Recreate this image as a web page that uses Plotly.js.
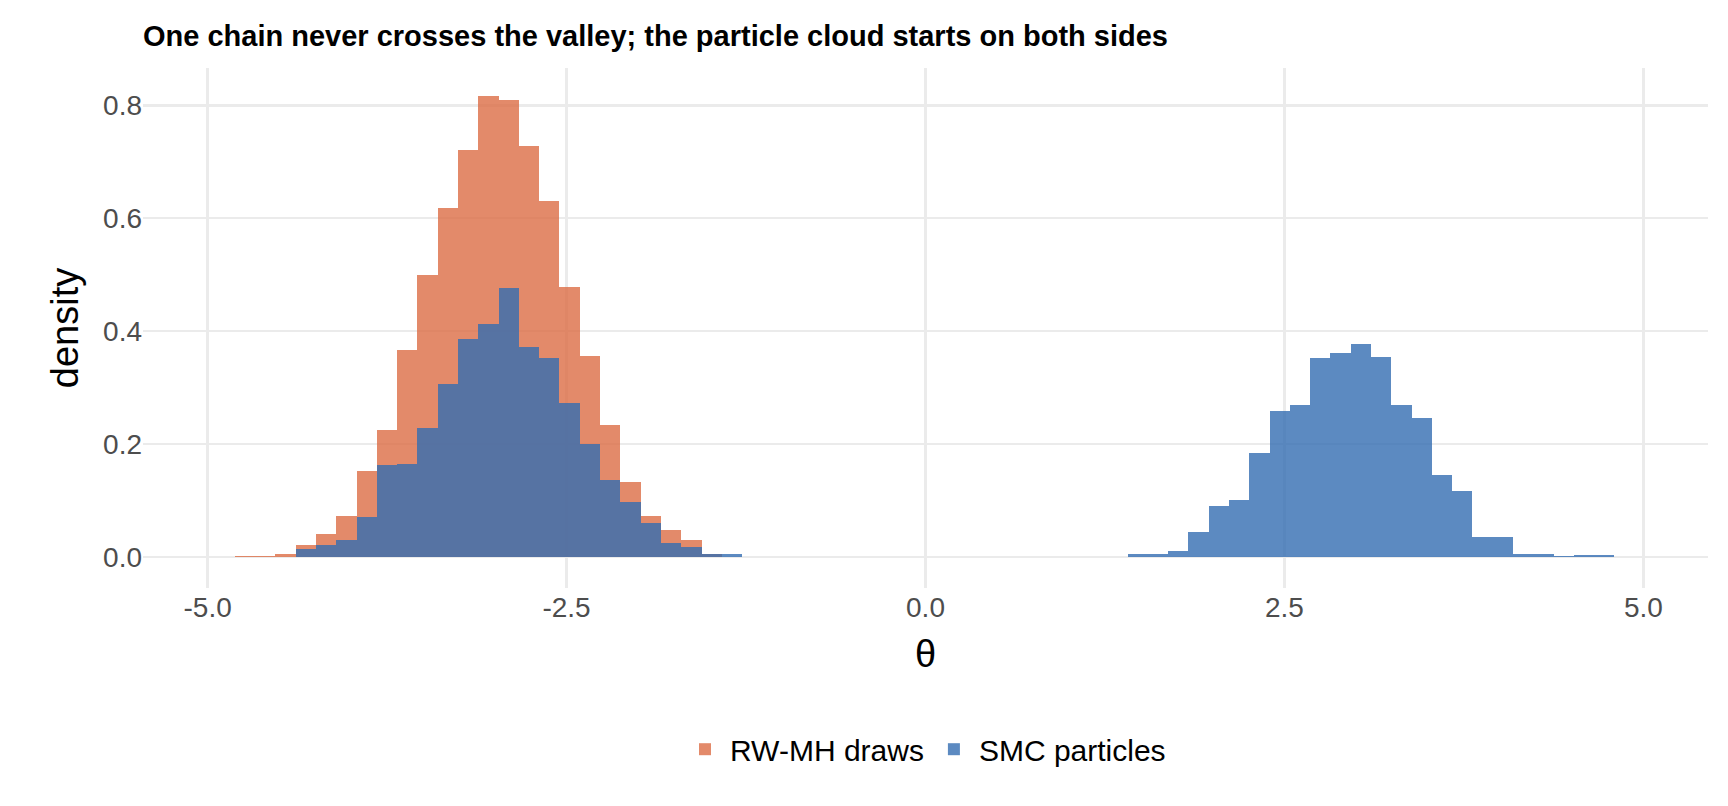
<!DOCTYPE html>
<html>
<head>
<script src="https://cdn.plot.ly/plotly-3.0.1.min.js"></script>
<style>body{margin:0;background:#fff}</style>
</head>
<body>
<div id="chart" style="width:1728px;height:806px"></div>
<script>
// histogram bins: left edge of first bin and bin width
const binStart = -4.81;
const binWidth = 0.1413;

// densities per bin index
const rwmhBins = [0,1,2,3,4,5,6,7,8,9,10,11,12,13,14,15,16,17,18,19,20,21,22,23];
const rwmhDensity = [0.002,0.002,0.006,0.022,0.04,0.073,0.153,0.225,0.366,0.5,0.618,0.72,0.816,0.81,0.728,0.63,0.479,0.356,0.233,0.133,0.073,0.047,0.03,0.005];

const smcBins = [3,4,5,6,7,8,9,10,11,12,13,14,15,16,17,18,19,20,21,22,23,24,
  44,45,46,47,48,49,50,51,52,53,54,55,56,57,58,59,60,61,62,63,64,65,66,67];
const smcDensity = [0.014,0.021,0.03,0.07,0.162,0.165,0.228,0.307,0.386,0.413,0.476,0.372,0.352,0.272,0.2,0.137,0.098,0.06,0.025,0.018,0.006,0.006,
  0.006,0.006,0.01,0.045,0.09,0.1,0.184,0.258,0.27,0.352,0.362,0.378,0.354,0.27,0.246,0.145,0.116,0.036,0.036,0.006,0.006,0.001,0.003,0.003];

const center = i => binStart + (i + 0.5) * binWidth;

const traces = [
  {type: "bar", name: "RW-MH draws", x: rwmhBins.map(center), y: rwmhDensity,
   width: binWidth, marker: {color: "rgb(221,110,70)", line: {width: 0}}, opacity: 0.8},
  {type: "bar", name: "SMC particles", x: smcBins.map(center), y: smcDensity,
   width: binWidth, marker: {color: "rgb(52,110,178)", line: {width: 0}}, opacity: 0.8}
];

const gray = "#4d4d4d";
const layout = {
  barmode: "overlay",
  bargap: 0,
  paper_bgcolor: "#fff",
  plot_bgcolor: "#fff",
  margin: {l: 143, r: 20, t: 68, b: 218},
  font: {family: "Liberation Sans, Arial, sans-serif", color: gray},
  title: {text: "<b>One chain never crosses the valley; the particle cloud starts on both sides</b>",
    x: 0, xref: "paper", xanchor: "left", y: 0.955, yanchor: "middle",
    font: {size: 29, color: "#000"}},
  xaxis: {range: [-5.45, 5.45], tickvals: [-5, -2.5, 0, 2.5, 5],
    ticktext: ["-5.0", "-2.5", "0.0", "2.5", "5.0"], tickfont: {size: 28, color: gray},
    showgrid: true, gridcolor: "#ebebeb", gridwidth: 2.5, zeroline: false, showline: false,
    ticks: "", ticklen: 8, tickcolor: "#fff",
    title: {text: "θ", font: {size: 38, color: "#000"}, standoff: 18}},
  yaxis: {range: [-0.055, 0.866], tickvals: [0, 0.2, 0.4, 0.6, 0.8],
    ticktext: ["0.0", "0.2", "0.4", "0.6", "0.8"], tickfont: {size: 28, color: gray},
    showgrid: true, gridcolor: "#ebebeb", gridwidth: 2.5, zeroline: false, showline: false,
    ticks: "", ticklen: 6, tickcolor: "#fff",
    title: {text: "density", font: {size: 38, color: "#000"}, standoff: 12}},
  showlegend: true,
  legend: {orientation: "h", x: 0.5, xanchor: "center", y: -0.31, yanchor: "middle",
    font: {size: 30, color: "#000"}, itemwidth: 40, traceorder: "normal"}
};

Plotly.newPlot("chart", traces, layout, {displayModeBar: false, staticPlot: true});
</script>
</body>
</html>
